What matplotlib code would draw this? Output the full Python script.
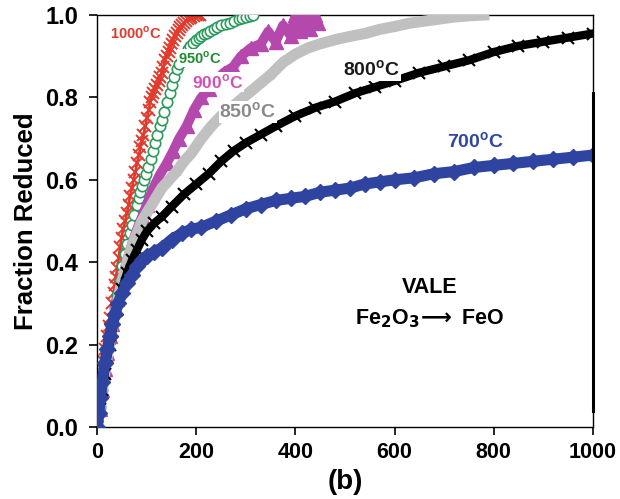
import matplotlib
matplotlib.use("Agg")
import matplotlib.pyplot as plt

plt.rcParams['font.family'] = ['Liberation Sans', 'DejaVu Sans']
plt.rcParams['font.weight'] = 'bold'
plt.rcParams['mathtext.fontset'] = 'custom'
plt.rcParams['mathtext.rm'] = 'Liberation Sans:bold'
plt.rcParams['mathtext.bf'] = 'Liberation Sans:bold'

# ---- data ----
t_1000 = [0, 4, 8, 12, 16, 20, 23, 26, 30, 33, 35, 38, 40, 43, 46, 49, 52, 56, 60, 63, 66, 70,
          73, 77, 80, 84, 87, 90, 93, 97, 100, 104, 107, 110, 113, 117, 120, 124, 127, 130,
          133, 137, 140, 144, 147, 150, 153, 157, 160, 164, 167, 171, 175, 179, 183, 187,
          190, 195, 200, 204, 208]
f_1000 = [0, 0.04, 0.09, 0.16, 0.19, 0.22, 0.245, 0.265, 0.30, 0.325, 0.345, 0.365, 0.385, 0.41,
          0.437, 0.46, 0.48, 0.50, 0.52, 0.54, 0.56, 0.58, 0.60, 0.62, 0.64, 0.66, 0.68, 0.695,
          0.71, 0.73, 0.75, 0.77, 0.79, 0.80, 0.81, 0.82, 0.83, 0.84, 0.85, 0.86, 0.874, 0.89,
          0.90, 0.91, 0.92, 0.93, 0.94, 0.95, 0.956, 0.963, 0.97, 0.975, 0.98, 0.985, 0.99,
          0.993, 0.995, 0.998, 1.0, 1.0, 1.0]

t_950 = [0, 5, 10, 15, 20, 25, 30, 35, 40, 45, 50, 55, 60, 65, 70, 75, 80, 84, 87, 91, 95, 99,
         103, 108, 112, 117, 121, 126, 130, 135, 141, 146, 150, 155, 161, 165, 170, 175, 180,
         184, 188, 194, 200, 205, 210, 216, 222, 228, 235, 242, 250, 259, 268, 276, 285, 292,
         300, 308, 315]
f_950 = [0, 0.05, 0.09, 0.13, 0.17, 0.21, 0.25, 0.29, 0.32, 0.355, 0.39, 0.42, 0.445, 0.47, 0.49,
         0.515, 0.54, 0.555, 0.57, 0.585, 0.60, 0.615, 0.63, 0.65, 0.67, 0.69, 0.71, 0.73,
         0.745, 0.765, 0.79, 0.81, 0.83, 0.85, 0.87, 0.88, 0.89, 0.90, 0.91, 0.918, 0.925,
         0.932, 0.94, 0.945, 0.95, 0.953, 0.956, 0.96, 0.965, 0.97, 0.975, 0.978, 0.98, 0.985,
         0.99, 0.992, 0.995, 0.998, 1.0]

t_900 = [0, 5, 10, 15, 20, 25, 30, 40, 50, 60, 70, 80, 90, 100, 113, 125, 140, 153, 165, 180,
         195, 210, 225, 240, 255, 274, 290, 310, 330, 345, 360, 375, 390, 400, 410, 420, 430,
         440, 445]
f_900 = [0, 0.045, 0.09, 0.14, 0.18, 0.22, 0.25, 0.31, 0.36, 0.405, 0.445, 0.48, 0.51, 0.54, 0.58,
         0.61, 0.64, 0.67, 0.70, 0.73, 0.77, 0.80, 0.82, 0.84, 0.86, 0.874, 0.90, 0.92, 0.93,
         0.96, 0.935, 0.975, 0.95, 1.0, 0.96, 0.995, 0.965, 1.0, 0.98]

t_850 = [0, 5, 10, 15, 20, 25, 30, 40, 50, 60, 70, 80, 90, 100, 115, 130, 145, 160, 175, 190,
         210, 230, 250, 270, 290, 310, 330, 350, 375, 400, 425, 450, 480, 510, 540, 570, 600,
         630, 660, 690, 720, 750, 780]
f_850 = [0, 0.045, 0.09, 0.13, 0.17, 0.21, 0.24, 0.30, 0.355, 0.40, 0.44, 0.47, 0.50, 0.52, 0.55,
         0.58, 0.60, 0.62, 0.645, 0.665, 0.70, 0.73, 0.755, 0.775, 0.795, 0.815, 0.835, 0.855,
         0.885, 0.905, 0.92, 0.93, 0.94, 0.948, 0.955, 0.965, 0.972, 0.98, 0.985, 0.99, 0.995,
         0.998, 1.0]

t_800 = [0, 5, 10, 15, 20, 25, 30, 40, 50, 60, 70, 80, 90, 100, 115, 130, 150, 175, 200, 225,
         250, 275, 300, 330, 360, 400, 440, 480, 520, 560, 600, 650, 700, 750, 800, 850, 900,
         950, 1000]
f_800 = [0, 0.045, 0.09, 0.13, 0.17, 0.20, 0.23, 0.285, 0.335, 0.375, 0.405, 0.43, 0.455, 0.475,
         0.495, 0.51, 0.535, 0.565, 0.59, 0.615, 0.645, 0.67, 0.69, 0.71, 0.73, 0.755, 0.775,
         0.79, 0.81, 0.825, 0.84, 0.86, 0.875, 0.89, 0.91, 0.925, 0.935, 0.945, 0.955]

t_700 = [0, 3, 6, 10, 15, 20, 25, 30, 36, 42, 50, 60, 70, 80, 90, 100, 115, 130, 150, 170, 190,
         210, 240, 270, 300, 330, 360, 390, 420, 450, 480, 510, 540, 570, 600, 640, 680, 720,
         760, 800, 840, 880, 920, 960, 1000]
f_700 = [0, 0.035, 0.07, 0.11, 0.155, 0.19, 0.22, 0.25, 0.275, 0.30, 0.325, 0.35, 0.37, 0.39,
         0.405, 0.415, 0.425, 0.435, 0.455, 0.47, 0.48, 0.485, 0.50, 0.515, 0.53, 0.54, 0.55,
         0.555, 0.56, 0.57, 0.575, 0.58, 0.59, 0.595, 0.60, 0.605, 0.615, 0.62, 0.63, 0.635,
         0.64, 0.645, 0.65, 0.655, 0.66]

edge_x = [1000, 1000]
edge_y = [0.04, 0.81]

x_ticks = [0, 200, 400, 600, 800, 1000]
y_ticks = [0.0, 0.2, 0.4, 0.6, 0.8, 1.0]

labels = ["1000$^{\\mathbf{o}}$C", "950$^{\\mathbf{o}}$C", "900$^{\\mathbf{o}}$C",
          "850$^{\\mathbf{o}}$C", "800$^{\\mathbf{o}}$C", "700$^{\\mathbf{o}}$C"]

# ---- plotting ----
c_red = '#e23a2c'
c_green = '#2e9a5e'
c_mag = '#b548ad'
c_gray = '#c0c0c0'
c_black = '#000000'
c_blue = '#2e44a0'

fig = plt.figure(figsize=(6.2, 4.99), dpi=100)
ax = fig.add_axes([0.157, 0.144, 0.799, 0.826])

ax.plot(t_1000, f_1000, color=c_red, lw=2.0, marker='x', ms=8, mew=1.4, zorder=2)
ax.plot(t_950, f_950, color=c_green, lw=1.2, marker='o', ms=7.5, mfc='white', mew=1.2, zorder=3)
ax.plot(t_900, f_900, color=c_mag, lw=7, marker='^', ms=10, zorder=4)
ax.plot(t_850, f_850, color=c_gray, lw=8, marker='s', ms=5, zorder=5)
ax.plot(t_800, f_800, color=c_black, lw=6, marker='x', ms=9, mew=1.5, zorder=6)
ax.plot(t_700, f_700, color=c_blue, lw=8, marker='D', ms=8, zorder=7)
ax.plot(edge_x, edge_y, color='black', lw=2.2, zorder=8, clip_on=False)

box = dict(facecolor='white', edgecolor='none', pad=0.5)
tkw = dict(fontweight='bold', ha='center', va='center', zorder=10, bbox=box)
ax.text(77, 0.956, labels[0], color=c_red, fontsize=10.5, **tkw)
ax.text(206, 0.896, labels[1], color='#1e8c2e', fontsize=10.5, **tkw)
ax.text(242, 0.837, labels[2], color='#d24fb5', fontsize=12.5, **tkw)
ax.text(304, 0.765, labels[3], color='#8a8a8a', fontsize=14, **tkw)
ax.text(554, 0.867, labels[4], color='#1a1a1a', fontsize=14, **tkw)
ax.text(764, 0.692, labels[5], color='#3046a0', fontsize=14, **tkw)

tk2 = dict(fontweight='bold', ha='center', va='center')
ax.text(671, 0.339, "VALE", fontsize=15.5, **tk2)
ax.text(671, 0.264, "Fe$_{\\mathbf{2}}$O$_{\\mathbf{3}}\\!\\longrightarrow$ FeO",
        fontsize=15.5, math_fontfamily='dejavusans', **tk2)

ax.set_xlim(0, 1000)
ax.set_ylim(0, 1.0)
ax.set_xticks(x_ticks)
ax.set_yticks(y_ticks)
ax.set_xticklabels([str(v) for v in x_ticks], fontsize=15.5, fontweight='bold')
ax.set_yticklabels([f"{v:.1f}" for v in y_ticks], fontsize=17, fontweight='bold')
ax.tick_params(axis='x', direction='out', length=6, width=1.2, pad=5)
ax.tick_params(axis='y', direction='out', length=6, width=1.2, pad=8)
for s in ax.spines.values():
    s.set_linewidth(1.0)
ax.set_ylabel("Fraction Reduced", fontsize=18.5, fontweight='bold', labelpad=5)
ax.set_xlabel("(b)", fontsize=20, fontweight='bold', labelpad=4)

fig.savefig("out.png", dpi=100)
